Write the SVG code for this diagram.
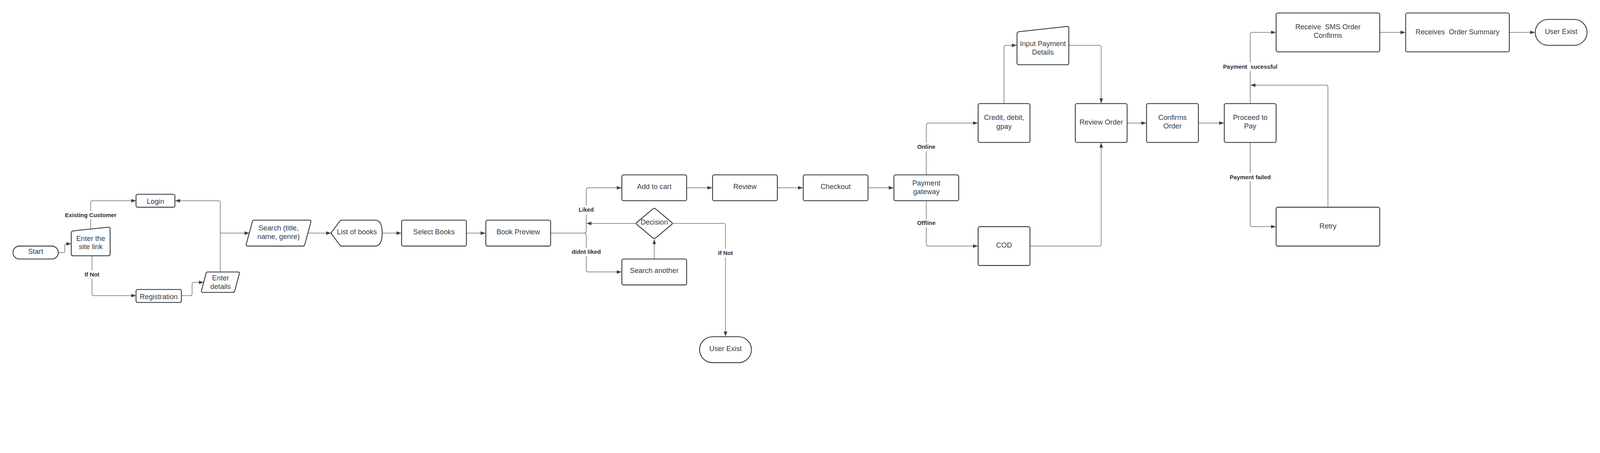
<svg xmlns="http://www.w3.org/2000/svg" width="4940" height="1160" viewBox="0 0 4940 1160" preserveAspectRatio="xMinYMin meet" style="width:100%;height:100%">
<style>
.n{fill:#fff;stroke:#2b2f36;stroke-width:2.5;stroke-linejoin:round}
.t{font-family:"Liberation Sans",Arial,sans-serif;font-size:22px;fill:#353b45;text-anchor:middle;white-space:pre}
.c{fill:none;stroke:#4d535c;stroke-width:1.5}
.a{marker-end:url(#ah)}
.lb{font-family:"Liberation Sans",Arial,sans-serif;font-size:18px;font-weight:bold;fill:#2b2f36;text-anchor:middle;white-space:pre}
.bg{fill:#fff}
</style>
<defs>
<marker id="ah" markerUnits="userSpaceOnUse" markerWidth="15" markerHeight="11" refX="15" refY="5.5" orient="auto">
<path d="M0,0 L15,5.5 L0,11 Z" fill="#3a404a"/>
</marker>
</defs>
<rect width="4940" height="1160" fill="#fff"/>

<g id="connectors">
<path class="c a" d="M180,780 H196 Q200,780 200,776 V757 Q200,753 204,753 H220"/>
<path class="c a" d="M280,707 V626 Q280,620 286,620 H420"/>
<path class="c a" d="M284,790 V907 Q284,913 290,913 H420"/>
<path class="c a" d="M560,913 H587 Q593,913 593,907 V878 Q593,872 599,872 H629"/>
<path class="c a" d="M680,840 V626 Q680,620 674,620 H541"/>
<path class="c a" d="M680,720 H770"/>
<path class="c a" d="M950,720 H1022"/>
<path class="c a" d="M1180,720 H1239"/>
<path class="c a" d="M1440,720 H1499"/>
<path class="c a" d="M1700,720 H1804 Q1810,720 1810,714 V586 Q1810,580 1816,580 H1919"/>
<path class="c a" d="M1804,720 Q1810,720 1810,726 V834 Q1810,840 1816,840 H1919"/>
<path class="c a" d="M1962,690 H1811"/>
<path class="c a" d="M2020,800 V739"/>
<path class="c a" d="M2078,690 H2234 Q2240,690 2240,696 V1039"/>
<path class="c a" d="M2120,580 H2199"/>
<path class="c a" d="M2400,580 H2479"/>
<path class="c a" d="M2680,580 H2759"/>
<path class="c a" d="M2860,540 V386 Q2860,380 2866,380 H3019"/>
<path class="c a" d="M2860,620 V754 Q2860,760 2866,760 H3019"/>
<path class="c a" d="M3100,320 V146 Q3100,140 3106,140 H3139"/>
<path class="c a" d="M3300,140 H3394 Q3400,140 3400,146 V319"/>
<path class="c a" d="M3180,760 H3394 Q3400,760 3400,754 V441"/>
<path class="c a" d="M3480,380 H3539"/>
<path class="c a" d="M3700,380 H3779"/>
<path class="c a" d="M3860,320 V106 Q3860,100 3866,100 H3939"/>
<path class="c a" d="M3860,440 V694 Q3860,700 3866,700 H3939"/>
<path class="c a" d="M4100,640 V269 Q4100,263 4094,263 H3861"/>
<path class="c a" d="M4260,100 H4339"/>
<path class="c a" d="M4660,100 H4739"/>

<rect class="bg" x="197" y="651" width="166" height="26"/>
<text class="lb" x="280" y="670">Existing Customer</text>
<rect class="bg" x="258" y="835" width="52" height="26"/>
<text class="lb" x="284" y="854">If Not</text>
<rect class="bg" x="1784" y="635" width="52" height="26"/>
<text class="lb" x="1810" y="654">Liked</text>
<rect class="bg" x="1763" y="765" width="94" height="26"/>
<text class="lb" x="1810" y="784">didnt liked</text>
<rect class="bg" x="2214" y="769" width="52" height="26"/>
<text class="lb" x="2240" y="788">If Not</text>
<rect class="bg" x="2830" y="441" width="60" height="26"/>
<text class="lb" x="2860" y="460">Online</text>
<rect class="bg" x="2829" y="676" width="62" height="26"/>
<text class="lb" x="2860" y="695">Offline</text>
<rect class="bg" x="3795" y="534" width="130" height="26"/>
<text class="lb" x="3860" y="553">Payment failed</text>
<rect class="bg" x="3775" y="193" width="170" height="26"/>
<text class="lb" x="3860" y="212">Payment  sucessful</text>
</g>

<g id="start"><rect class="n" x="40" y="760" width="140" height="40" rx="20"/><text class="t" x="110" y="784">Start</text></g>
<g id="enter-site-link"><path class="n" d="M226,713 L334,701.6 Q340,701 340,707 V784 Q340,790 334,790 H226 Q220,790 220,784 V719 Q220,714 226,713 Z"/><text class="t" x="280" y="744">Enter the</text><text class="t" x="280" y="770">site link</text></g>
<g id="login"><rect class="n" x="420" y="600" width="120" height="40" rx="5"/><text class="t" x="480" y="629">Login</text></g>
<g id="registration"><rect class="n" x="420" y="894" width="140" height="40" rx="5"/><text class="t" x="490" y="924">Registration</text></g>
<g id="enter-details"><path class="n" d="M641,840 H735 Q740,840 739,845 L725,898 Q724,903 719,903 H626 Q621,903 622,898 L636,845 Q637,840 641,840 Z"/><text class="t" x="681" y="866">Enter</text><text class="t" x="681" y="892">details</text></g>
<g id="search"><path class="n" d="M785,680 H955 Q961,680 960,685 L941,755 Q940,760 935,760 H765 Q759,760 760,755 L779,685 Q780,680 785,680 Z"/><text class="t" x="860" y="711">Search (title,</text><text class="t" x="860" y="738">name, genre)</text></g>
<g id="list-of-books"><path class="n" d="M1022,720 L1050,682 Q1052,680 1056,680 H1158 C1176,680 1180,700 1180,720 C1180,740 1176,760 1158,760 H1056 Q1052,760 1050,758 Z"/><text class="t" x="1102" y="724">List of books</text></g>
<g id="select-books"><rect class="n" x="1240" y="680" width="200" height="80" rx="5"/><text class="t" x="1340" y="724">Select Books</text></g>
<g id="book-preview"><rect class="n" x="1500" y="680" width="200" height="80" rx="5"/><text class="t" x="1600" y="724">Book Preview</text></g>
<g id="add-to-cart"><rect class="n" x="1920" y="540" width="200" height="80" rx="5"/><text class="t" x="2020" y="584">Add to cart</text></g>
<g id="decision"><path class="n" d="M2016,645 Q2020,642 2024,645 L2074,687 Q2078,690 2074,693 L2024,735 Q2020,738 2016,735 L1966,693 Q1962,690 1966,687 Z"/><text class="t" x="2020" y="694">Decision</text></g>
<g id="search-another"><rect class="n" x="1920" y="800" width="200" height="80" rx="5"/><text class="t" x="2020" y="843">Search another</text></g>
<g id="user-exist-1"><rect class="n" x="2160" y="1040" width="160" height="80" rx="40"/><text class="t" x="2240" y="1084">User Exist</text></g>
<g id="review"><rect class="n" x="2200" y="540" width="200" height="80" rx="5"/><text class="t" x="2300" y="584">Review</text></g>
<g id="checkout"><rect class="n" x="2480" y="540" width="200" height="80" rx="5"/><text class="t" x="2580" y="584">Checkout</text></g>
<g id="payment-gateway"><rect class="n" x="2760" y="540" width="200" height="80" rx="5"/><text class="t" x="2860" y="573">Payment</text><text class="t" x="2860" y="600">gateway</text></g>
<g id="credit"><rect class="n" x="3020" y="320" width="160" height="120" rx="5"/><text class="t" x="3100" y="370">Credit, debit,</text><text class="t" x="3100" y="398">gpay</text></g>
<g id="cod"><rect class="n" x="3020" y="700" width="160" height="120" rx="5"/><text class="t" x="3100" y="765">COD</text></g>
<g id="input-payment"><path class="n" d="M3146,98 L3294,81.6 Q3300,81 3300,87 V194 Q3300,200 3294,200 H3146 Q3140,200 3140,194 V104 Q3140,99 3146,98 Z"/><text class="t" x="3220" y="142">Input Payment</text><text class="t" x="3220" y="169">Details</text></g>
<g id="review-order"><rect class="n" x="3320" y="320" width="160" height="120" rx="5"/><text class="t" x="3400" y="385">Review Order</text></g>
<g id="confirms-order"><rect class="n" x="3540" y="320" width="160" height="120" rx="5"/><text class="t" x="3620" y="370">Confirms</text><text class="t" x="3620" y="397">Order</text></g>
<g id="proceed-to-pay"><rect class="n" x="3780" y="320" width="160" height="120" rx="5"/><text class="t" x="3860" y="370">Proceed to</text><text class="t" x="3860" y="397">Pay</text></g>
<g id="retry"><rect class="n" x="3940" y="640" width="320" height="120" rx="5"/><text class="t" x="4100" y="706">Retry</text></g>
<g id="receive-sms"><rect class="n" x="3940" y="40" width="320" height="120" rx="5"/><text class="t" x="4100" y="90">Receive  SMS Order</text><text class="t" x="4100" y="117">Confirms</text></g>
<g id="order-summary"><rect class="n" x="4340" y="40" width="320" height="120" rx="5"/><text class="t" x="4500" y="106">Receives  Order Summary</text></g>
<g id="user-exist-2"><rect class="n" x="4740" y="60" width="160" height="80" rx="40"/><text class="t" x="4820" y="105">User Exist</text></g>
</svg>
